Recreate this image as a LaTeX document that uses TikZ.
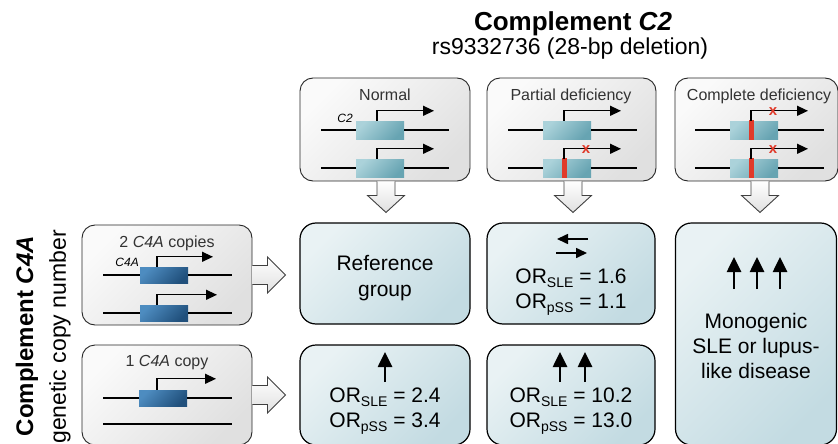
\documentclass[tikz,border=0pt]{standalone}
\usepackage{fontspec}
\setmainfont{Liberation Sans}
\usetikzlibrary{arrows.meta,positioning}

\definecolor{greyA}{HTML}{FAFAFA}
\definecolor{greyB}{HTML}{E0E0E0}
\definecolor{blueA}{HTML}{E9F2F4}
\definecolor{blueB}{HTML}{C3DBE2}
\definecolor{tealA}{HTML}{ABD2DA}
\definecolor{tealB}{HTML}{67A4B2}
\definecolor{navyA}{HTML}{4D8CC0}
\definecolor{navyB}{HTML}{21507C}
\definecolor{mutred}{HTML}{E03A2A}

\newcommand{\orsub}[1]{\raisebox{-0.22em}{\fontsize{14}{14}\selectfont #1}}

\tikzstyle{greybox} = [draw=black!85, line width=0.9pt, rounded corners=13pt, top color=greyA, bottom color=greyB, shading angle=45, minimum width=170pt, minimum height=103pt, inner sep=0pt]
\tikzstyle{bluebox} = [draw=black, line width=1.2pt, rounded corners=16pt, top color=blueA, bottom color=blueB, shading angle=45, minimum width=170pt, minimum height=101pt, inner sep=0pt]
\tikzstyle{boxtitle} = [font=\fontsize{16}{19}\selectfont, text=black!80, anchor=base, inner sep=0pt]
\tikzstyle{result} = [font=\fontsize{21}{25}\selectfont, anchor=base, align=center, inner sep=0pt]
\tikzstyle{genelabel} = [font=\fontsize{12}{14}\selectfont\itshape, anchor=base east, inner sep=0pt]
\tikzstyle{ctwogene} = [rectangle, minimum width=48pt, minimum height=18pt, inner sep=0pt, top color=tealA, bottom color=tealB, shading angle=45]
\tikzstyle{cfourgene} = [rectangle, minimum width=48pt, minimum height=16pt, inner sep=0pt, top color=navyA, bottom color=navyB, shading angle=45]
\tikzstyle{redbar} = [rectangle, fill=mutred, minimum width=5pt, minimum height=20pt, inner sep=0pt]
\tikzstyle{redx} = [text=mutred, font=\fontsize{15}{15}\selectfont\bfseries, inner sep=0pt]
\tikzstyle{dna} = [line width=1.1pt]
\tikzstyle{tss} = [line width=1.3pt, -{Triangle[length=11pt,width=10pt]}]
\tikzstyle{eqarrow} = [line width=1.6pt, -{Triangle[length=11pt,width=10pt]}]
\tikzstyle{uparrow} = [line width=2.6pt, -{Triangle[length=15pt,width=14pt]}]
\tikzstyle{blockarrow} = [draw=black!75, line width=0.9pt, top color=white, bottom color=greyB, line join=miter]

\begin{document}
\begin{tikzpicture}[x=1pt, y=-1pt]
  \useasboundingbox (0,0) rectangle (838,444);

  \node (c2title) at (573,31) [anchor=base, font=\fontsize{26}{30}\selectfont\bfseries, inner sep=0pt] {Complement \textit{C2}};
  \node (c2sub) at (570,55) [anchor=base, font=\fontsize{23}{27}\selectfont, inner sep=0pt] {rs9332736 (28-bp deletion)};
  \node (c4title) at (27,336) [rotate=90, font=\fontsize{24}{28}\selectfont\bfseries, inner sep=0pt] {Complement \textit{C4A}};
  \node (c4sub) at (60,337) [rotate=90, font=\fontsize{23}{27}\selectfont, inner sep=0pt] {genetic copy number};

  % C2 genotypes
  \node (normal) at (385,129.5) [greybox] {};
  \node (partial) at (571.5,129.5) [greybox, minimum width=169pt] {};
  \node (complete) at (756.5,129.5) [greybox, minimum width=163pt] {};
  \node (normaltext) at (385,100) [boxtitle] {Normal};
  \node (partialtext) at (571,100) [boxtitle] {Partial deficiency};
  \node (completetext) at (759,100) [boxtitle] {Complete deficiency};

  % C4A copy number
  \node (two) at (167,275) [greybox, minimum height=100pt] {};
  \node (one) at (167,395) [greybox, minimum height=100pt] {};
  \node (twotext) at (167,247) [boxtitle] {2 \textit{C4A} copies};
  \node (onetext) at (167,366) [boxtitle] {1 \textit{C4A} copy};

  % outcomes
  \node (ref) at (385,273.5) [bluebox] {};
  \node (partref) at (571,273.5) [bluebox, minimum width=168pt] {};
  \node (onenorm) at (385,395) [bluebox, minimum height=100pt] {};
  \node (onepart) at (571,395) [bluebox, minimum width=168pt, minimum height=100pt] {};
  \node (mono) at (756,334) [bluebox, minimum width=161pt, minimum height=222pt] {};

  % normal
  \node (ngeneA) at (380,130) [ctwogene] {};
  \node (ngeneB) at (380,168) [ctwogene] {};
  \draw [dna] (ngeneA.west) -- ++(-35,0) (ngeneA.east) -- ++(45,0);
  \draw [dna] (ngeneB.west) -- ++(-35,0) (ngeneB.east) -- ++(45,0);
  \draw [tss] ([xshift=-3pt]ngeneA.north) -- ++(0,-10) -- ++(57,0);
  \draw [tss] ([xshift=-3pt]ngeneB.north) -- ++(0,-10) -- ++(57,0);
  \node (ctwolabel) at (353,122) [genelabel] {C2};

  % partial
  \node (pgeneA) at (567,130) [ctwogene] {};
  \node (pgeneB) at (567,168) [ctwogene] {};
  \draw [dna] (pgeneA.west) -- ++(-35,0) (pgeneA.east) -- ++(46,0);
  \draw [dna] (pgeneB.west) -- ++(-35,0) (pgeneB.east) -- ++(46,0);
  \node (pbar) at ([xshift=-3pt]pgeneB.center) [redbar] {};
  \draw [tss] ([xshift=-3pt]pgeneA.north) -- ++(0,-10) -- ++(57,0);
  \draw [tss] ([xshift=-3pt]pgeneB.north) -- ++(0,-10) -- ++(57,0);
  \node (px) at (586,150) [redx] {x};

  % complete
  \node (cgeneA) at (754,130) [ctwogene] {};
  \node (cgeneB) at (754,168) [ctwogene] {};
  \draw [dna] (cgeneA.west) -- ++(-35,0) (cgeneA.east) -- ++(46,0);
  \draw [dna] (cgeneB.west) -- ++(-35,0) (cgeneB.east) -- ++(46,0);
  \node (cbarA) at ([xshift=-3pt]cgeneA.center) [redbar] {};
  \node (cbarB) at ([xshift=-3pt]cgeneB.center) [redbar] {};
  \draw [tss] ([xshift=-3pt]cgeneA.north) -- ++(0,-10) -- ++(57,0);
  \draw [tss] ([xshift=-3pt]cgeneB.north) -- ++(0,-10) -- ++(57,0);
  \node (cxA) at (773,112) [redx] {x};
  \node (cxB) at (773,150) [redx] {x};

  % two copies
  \node (tgeneA) at (164,275) [cfourgene] {};
  \node (tgeneB) at (164,313) [cfourgene] {};
  \draw [dna] (tgeneA.west) -- ++(-37,0) (tgeneA.east) -- ++(44,0);
  \draw [dna] (tgeneB.west) -- ++(-37,0) (tgeneB.east) -- ++(44,0);
  \draw [tss] ([xshift=-7pt]tgeneA.north) -- ++(0,-10) -- ++(56,0);
  \draw [tss] ([xshift=-7pt]tgeneB.north) -- ++(0,-10) -- ++(60,0);
  \node (cfourlabel) at (139,266) [genelabel] {C4A};

  % one copy
  \node (ogene) at (163,398) [cfourgene] {};
  \draw [dna] (ogene.west) -- ++(-36,0) (ogene.east) -- ++(45,0);
  \draw [tss] ([xshift=-6pt]ogene.north) -- ++(0,-11) -- ++(59,0);
  \draw [dna] (103,424) -- (232,424);

  % block arrows
  \draw [blockarrow] ([xshift=-8pt]normal.south) -- ++(0,14) -- ++(-9.5,0) -- ++(18.5,17) -- ++(18.5,-17) -- ++(-9.5,0) -- ++(0,-14);
  \draw [blockarrow] ([xshift=-7.5pt]partial.south) -- ++(0,14) -- ++(-9.5,0) -- ++(18.5,17) -- ++(18.5,-17) -- ++(-9.5,0) -- ++(0,-14);
  \draw [blockarrow] ([xshift=-5.5pt]complete.south) -- ++(0,14) -- ++(-9.5,0) -- ++(18.5,17) -- ++(18.5,-17) -- ++(-9.5,0) -- ++(0,-14);
  \draw [blockarrow] ([yshift=9.5pt]two.east) -- ++(15,0) -- ++(0,-8.5) -- ++(18,18) -- ++(-18,18) -- ++(0,-8.5) -- ++(-15,0);
  \draw [blockarrow] ([yshift=9.5pt]one.east) -- ++(15,0) -- ++(0,-8.5) -- ++(18,18) -- ++(-18,18) -- ++(0,-8.5) -- ++(-15,0);

  % outcome texts (base = last line)
  \node (reftext) at (385,296) [result, font=\fontsize{21}{26}\selectfont] {Reference\\group};
  \draw [eqarrow] (588,239) -- (557,239);
  \draw [eqarrow] (556,253) -- (587,253);
  \node (partreftext) at (571,308) [result] {OR\orsub{SLE} = 1.6\\OR\orsub{pSS} = 1.1};
  \draw [uparrow] (385,382) -- (385,352);
  \node (onenormtext) at (385,427) [result] {OR\orsub{SLE} = 2.4\\OR\orsub{pSS} = 3.4};
  \draw [uparrow] (560,382) -- (560,352);
  \draw [uparrow] (585,382) -- (585,352);
  \node (oneparttext) at (571,427) [result] {OR\orsub{SLE} = 10.2\\OR\orsub{pSS} = 13.0};
  \draw [uparrow] (734,289) -- (734,257);
  \draw [uparrow] (757,289) -- (757,257);
  \draw [uparrow] (780,289) -- (780,257);
  \node (monotext) at (756,378) [result] {Monogenic\\SLE or lupus-\\like disease};
\end{tikzpicture}
\end{document}
